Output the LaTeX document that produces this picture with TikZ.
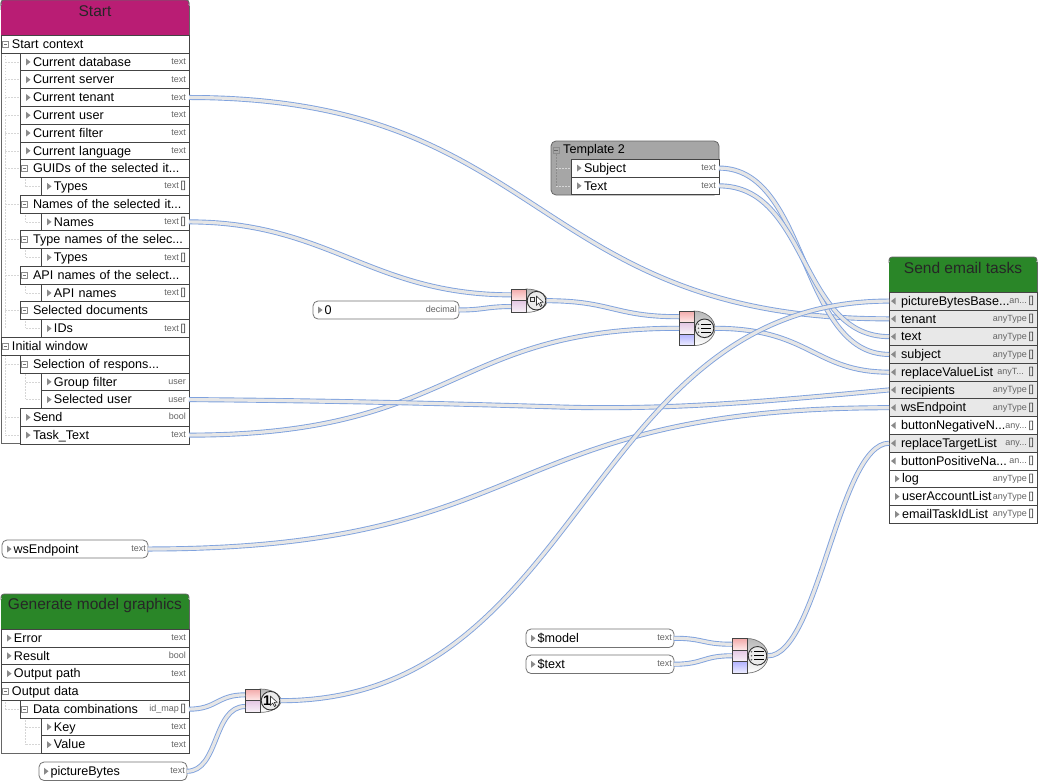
\documentclass[tikz,border=0pt]{standalone}
\usepackage{fontspec}
\setmainfont{Liberation Sans}
\definecolor{edgeD}{HTML}{444444}
\definecolor{wireB}{HTML}{7FA2DE}
\definecolor{wireI}{HTML}{E6E6E6}
\definecolor{typeC}{HTML}{646464}
\definecolor{triC}{HTML}{8A8A8A}
\definecolor{magH}{HTML}{B91D74}
\definecolor{grnH}{HTML}{2A8628}
\definecolor{tmplG}{HTML}{A6A6A6}
\definecolor{rowG}{HTML}{E8E8E8}
\tikzset{
  x=1pt,y=-1pt,
  rowbox/.style={draw=edgeD,line width=0.8pt,anchor=north west,inner xsep=0pt,inner ysep=0pt,outer sep=0pt,
    minimum height=17.77pt,text height=10pt,text depth=1.6pt,align=left,font=\fontsize{12.6}{14}\selectfont,text=black},
  typelabel/.style={anchor=mid east,inner sep=0pt,font=\fontsize{9}{10}\selectfont,text=typeC},
  arrlabel/.style={anchor=mid east,inner sep=0pt,font=\fontsize{10}{10}\selectfont,text=edgeD},
  tri/.style={fill=triC,draw=none},
  treeline/.style={draw=black!16,line width=0.6pt,dash pattern=on 1.5pt off 1.5pt},
  minusbox/.style={draw=black!45,fill=white,line width=0.5pt},
  titletext/.style={anchor=center,inner sep=0pt,font=\fontsize{15.5}{17}\selectfont,text=black!85},
  outerbox/.style={draw=black!60,line width=0.8pt,fill=white},
  constbox/.style={draw=black!55,fill=white,line width=0.8pt,rounded corners=5pt,anchor=north west,inner xsep=0pt,inner ysep=0pt,outer sep=0pt,
    text height=10pt,text depth=1.6pt,align=left,font=\fontsize{12.6}{14}\selectfont},
  wire/.style={draw=wireB,double=wireI,line width=0.9pt,double distance=3.2pt,line cap=butt},
  gatecell/.style={draw=edgeD,line width=0.8pt,anchor=north west,inner sep=0pt,outer sep=0pt,minimum width=15pt,minimum height=11.7pt},
  pinkcell/.style={gatecell,top color=red!30!white!95!black,bottom color=red!8},
  purplecell/.style={gatecell,top color=violet!22,bottom color=violet!5},
  bluecell/.style={gatecell,top color=blue!30,bottom color=blue!7},
  gatebody/.style={draw=black!55,line width=0.7pt,top color=black!28,bottom color=white},
  gatedisc/.style={draw=black!80,line width=0.9pt,fill=black!8},
}
% row: name, left, index, kind, label, type, array flag
\newcommand{\myrow}[7]{%
  \pgfmathsetmacro{\rtop}{\rbase+#3*17.77}%
  \pgfmathsetmacro{\rmid}{\rtop+8.88}%
  \pgfmathsetmacro{\rw}{\rx-#2}%
  \ifdim #2pt>\rl pt
    \draw[treeline] (#2-15,\rmid) -- (#2,\rmid);
  \fi
  \node[rowbox,fill=\rfill,minimum width=\rw pt,text width=\rw pt] (#1) at (#2,\rtop) {\hspace*{13pt}\mbox{#5}};
  \if#4a\fill[tri] (#2+6,\rmid-3.5) -- (#2+10.5,\rmid) -- (#2+6,\rmid+3.5) -- cycle;\fi
  \if#4l\fill[tri] (#2+6.5,\rmid-3.5) -- (#2+2,\rmid) -- (#2+6.5,\rmid+3.5) -- cycle;\fi
  \if#4m\draw[minusbox] (#2+1.5,\rmid-3) rectangle (#2+7.5,\rmid+3);\draw[black!55,line width=0.5pt] (#2+2.8,\rmid) -- (#2+6.2,\rmid);\fi
  \if#71%
    \node[typelabel] (#1-t) at (\rx-10,\rmid) {#6};
    \node[arrlabel] (#1-a) at (\rx-3,\rmid) {[\kern-0.3pt]};
  \else
    \node[typelabel] (#1-t) at (\rx-3,\rmid) {#6};
  \fi
}
% header: name, x1,y1,x2,y2,color,title
\newcommand{\hdr}[7]{%
  \fill[#6,rounded corners=3pt] (#2,#3+6) -- (#2,#3) -- (#4,#3) -- (#4,#3+6) -- cycle;
  \fill[#6] (#2,#3+5) rectangle (#4,#5);
  \draw[black!60,line width=0.8pt,rounded corners=3pt] (#2,#3+6) -- (#2,#3) -- (#4,#3) -- (#4,#3+6);
  \draw[edgeD,line width=0.8pt] (#2,#5) -- (#4,#5);
  \node[titletext] (#1) at ({(#2+#4)/2},#3+11) {#7};
}
% const: name,x1,y1,x2,height,label,type
\newcommand{\constnode}[7]{%
  \pgfmathsetmacro{\rw}{#4-#2}%
  \pgfmathsetmacro{\rmid}{#3+#5/2}%
  \node[constbox,minimum width=\rw pt,text width=\rw pt,minimum height=#5 pt] (#1) at (#2,#3) {\hspace*{11.5pt}\mbox{#6}};
  \fill[tri] (#2+5,\rmid-3.5) -- (#2+9.5,\rmid) -- (#2+5,\rmid+3.5) -- cycle;
  \node[typelabel] (#1-t) at (#4-2,\rmid) {#7};
}
% gate with two inputs: name,x,y
\newcommand{\gatetwo}[3]{%
  \pgfmathsetmacro{\gm}{#3+11.7}%
  \draw[gatebody] (#2+15,#3) arc[start angle=-90,end angle=90,x radius=21,y radius=11.7] -- cycle;
  \node[pinkcell] (#1-1) at (#2,#3) {};
  \node[purplecell] (#1-2) at (#2,\gm) {};
  \coordinate (#1-out) at (#2+35.5,\gm);
  \coordinate (#1-c) at (#2+25.5,\gm);
  \draw[gatedisc] (#1-c) circle (9.3);
}
% gate with three inputs: name,x,y
\newcommand{\gatethree}[3]{%
  \pgfmathsetmacro{\gm}{#3+11.5}\pgfmathsetmacro{\gb}{#3+23}\pgfmathsetmacro{\gc}{#3+17.3}%
  \draw[gatebody] (#2+15,#3) arc[start angle=-90,end angle=90,x radius=21,y radius=17.3] -- cycle;
  \node[pinkcell,minimum height=11.5pt] (#1-1) at (#2,#3) {};
  \node[purplecell,minimum height=11.5pt] (#1-2) at (#2,\gm) {};
  \node[bluecell,minimum height=11.5pt] (#1-3) at (#2,\gb) {};
  \coordinate (#1-out) at (#2+36,\gc);
  \coordinate (#1-c) at (#2+25.5,\gc);
  \draw[gatedisc] (#1-c) circle (9.3);
  \draw[black,line width=0.9pt] ([xshift=-3.5pt,yshift=4pt]#1-c) -- ++(9.5,0) ([xshift=-3.5pt]#1-c) -- ++(9.5,0) ([xshift=-3.5pt,yshift=-4pt]#1-c) -- ++(9.5,0);
  \fill[black!60] ([xshift=-6pt,yshift=4pt]#1-c) circle (0.9) ([xshift=-6pt]#1-c) circle (0.9) ([xshift=-6pt,yshift=-4pt]#1-c) circle (0.9);
}
\newcommand{\cursoricon}[1]{%
  \draw[fill=white,draw=black!80,line width=0.6pt] ([xshift=0pt,yshift=4.5pt]#1) -- ++(0,9) -- ++(2.3,-2.1) -- ++(1.6,3.4) -- ++(1.5,-0.8) -- ++(-1.6,-3.2) -- ++(2.8,-0.3) -- cycle;
}
\newcommand{\wire}[4]{\draw[wire] (#1) .. controls +(#3,0) and +(-#4,0) .. (#2);}
\begin{document}
\begin{tikzpicture}
\useasboundingbox (0,0) rectangle (1038,781);
\fill[white] (0,0) rectangle (1038,781);
\def\rfill{white}
%% Start
\draw[outerbox,rounded corners=3pt] (1,10) -- (1,0) -- (189,0) -- (189,10);
\fill[white,draw=black!60,line width=0.8pt] (1,6) rectangle (189,443);
\hdr{startT}{1}{0}{189}{35}{magH}{Start}
\def\rbase{35.3}\def\rx{189}\def\rl{1}
\draw[treeline] (5,50) -- (5,328);
\draw[treeline] (25,176) -- (25,186.5);
\draw[treeline] (25,212) -- (25,221.5);
\draw[treeline] (25,247) -- (25,257);
\draw[treeline] (25,283) -- (25,292.5);
\draw[treeline] (25,318) -- (25,328);
\draw[treeline] (5,352) -- (5,434);
\draw[treeline] (25,371) -- (25,399);
\myrow{sctx}{1}{0}{m}{\hspace*{-2pt}Start context}{}{0}
\myrow{cdb}{20}{1}{a}{Current database}{text}{0}
\myrow{csrv}{20}{2}{a}{Current server}{text}{0}
\myrow{cten}{20}{3}{a}{Current tenant}{text}{0}
\myrow{cusr}{20}{4}{a}{Current user}{text}{0}
\myrow{cflt}{20}{5}{a}{Current filter}{text}{0}
\myrow{clng}{20}{6}{a}{Current language}{text}{0}
\myrow{guid}{20}{7}{m}{GUIDs of the selected it...}{}{0}
\myrow{gtyp}{41}{8}{a}{Types}{text}{1}
\myrow{nsel}{20}{9}{m}{Names of the selected it...}{}{0}
\myrow{nnam}{41}{10}{a}{Names}{text}{1}
\myrow{tsel}{20}{11}{m}{Type names of the selec...}{}{0}
\myrow{ttyp}{41}{12}{a}{Types}{text}{1}
\myrow{asel}{20}{13}{m}{API names of the select...}{}{0}
\myrow{anam}{41}{14}{a}{API names}{text}{1}
\myrow{sdoc}{20}{15}{m}{Selected documents}{}{0}
\myrow{sids}{41}{16}{a}{IDs}{text}{1}
\myrow{iwin}{1}{17}{m}{\hspace*{-2pt}Initial window}{}{0}
\myrow{sres}{20}{18}{m}{Selection of respons...}{}{0}
\myrow{gflt}{41}{19}{a}{Group filter}{user}{0}
\myrow{susr}{41}{20}{a}{Selected user}{user}{0}
\myrow{send}{20}{21}{a}{Send}{bool}{0}
\myrow{ttxt}{20}{22}{a}{Task\_Text}{text}{0}
%% Template 2
\fill[tmplG,draw=black!60,line width=0.8pt,rounded corners=5pt] (551,141) rectangle (719,195);
\node[anchor=mid west,inner sep=0pt,font=\fontsize{12.6}{14}\selectfont,text=black] (tmplT) at (563,150.5) {Template 2};
\draw[minusbox,fill=tmplG] (553,147) rectangle (559,153);
\draw[black!60,line width=0.5pt] (554.3,150) -- (557.7,150);
\draw[treeline,draw=black!45] (556,154) -- (556,186);
\def\rbase{159.2}\def\rx{719}\def\rl{551}
\myrow{tsub}{571}{0}{a}{Subject}{text}{0}
\myrow{ttex}{571}{1}{a}{Text}{text}{0}
%% Send email tasks
\fill[white,draw=black!60,line width=0.8pt] (889,262) rectangle (1037,523);
\hdr{sendT}{889}{257}{1037}{292}{grnH}{Send email tasks}
\def\rbase{292.2}\def\rx{1037}\def\rl{889}
\def\rfill{rowG}
\myrow{pbb}{889}{0}{l}{\hspace*{-1pt}pictureBytesBase...}{an...}{1}
\myrow{tena}{889}{1}{l}{\hspace*{-1pt}tenant}{anyType}{1}
\myrow{text}{889}{2}{l}{\hspace*{-1pt}text}{anyType}{1}
\myrow{subj}{889}{3}{l}{\hspace*{-1pt}subject}{anyType}{1}
\myrow{rvl}{889}{4}{l}{\hspace*{-1pt}replaceValueList}{anyT...\hspace*{3pt}}{1}
\myrow{reci}{889}{5}{l}{\hspace*{-1pt}recipients}{anyType}{1}
\myrow{wse}{889}{6}{l}{\hspace*{-1pt}wsEndpoint}{anyType}{1}
\def\rfill{white}
\myrow{bnn}{889}{7}{l}{\hspace*{-1pt}buttonNegativeN...}{any...}{1}
\def\rfill{rowG}
\myrow{rtl}{889}{8}{l}{\hspace*{-1pt}replaceTargetList}{any...}{1}
\def\rfill{white}
\myrow{bpn}{889}{9}{l}{\hspace*{-1pt}buttonPositiveNa...}{an...}{1}
\myrow{logr}{889}{10}{a}{log}{anyType}{1}
\myrow{uacl}{889}{11}{a}{userAccountList}{anyType}{1}
\myrow{etil}{889}{12}{a}{emailTaskIdList}{anyType}{1}
%% Generate model graphics
\fill[white,draw=black!60,line width=0.8pt] (1,600) rectangle (189,753);
\hdr{genT}{1}{594}{189}{629}{grnH}{Generate model graphics}
\def\rbase{629.2}\def\rx{189}\def\rl{1}
\draw[treeline] (5,696) -- (5,709);
\draw[treeline] (25,714) -- (25,745);
\myrow{gerr}{1}{0}{a}{Error}{text}{0}
\myrow{gres}{1}{1}{a}{Result}{bool}{0}
\myrow{gpth}{1}{2}{a}{Output path}{text}{0}
\myrow{gdat}{1}{3}{m}{\hspace*{-2pt}Output data}{}{0}
\myrow{gcmb}{20}{4}{m}{Data combinations}{id\_map}{1}
\myrow{gkey}{41}{5}{a}{Key}{text}{0}
\myrow{gval}{41}{6}{a}{Value}{text}{0}
%% constants
\constnode{czero}{313}{301}{459}{18}{0}{decimal}
\constnode{cws}{2}{540}{148}{18}{wsEndpoint}{text}
\constnode{cpic}{39}{762}{187}{18.5}{pictureBytes}{text}
\constnode{cmod}{526}{629}{674}{18.5}{\$model}{text}
\constnode{ctex}{526}{655}{674}{18.5}{\$text}{text}
%% gates
\gatetwo{ga}{511}{289}
\draw[black!80,line width=0.6pt] (530,297) rectangle (534.5,301.5);
\cursoricon{ga-c}
\gatethree{gb}{679}{311}
\gatetwo{gc}{245}{689}
\node[inner sep=0pt,font=\bfseries\fontsize{14}{14}\selectfont] (gcone) at ([xshift=-3.5pt]gc-c) {1};
\cursoricon{gc-c}
\gatethree{gd}{732}{638.5}
%% wires
\wire{nnam.east}{ga-1.west}{140}{140}
\wire{czero.east}{ga-2.west}{25}{25}
\wire{ga-out}{gb-1.west}{65}{65}
\wire{ttxt.east}{gb-2.west}{270}{230}
\wire{cten.east}{tena.west}{360}{360}
\wire{gb-out}{rvl.west}{95}{75}
\coordinate (susrmid) at (560,407);
\draw[wire] (susr.east) .. controls +(130,1) and +(-130,-4) .. (susrmid) .. controls +(120,3.7) and +(-99,9) .. (reci.west);
\wire{cws.east}{wse.west}{395}{395}
\wire{tsub.east}{subj.west}{90}{90}
\wire{ttex.east}{text.west}{90}{90}
\wire{gcmb.east}{gc-1.west}{28}{28}
\wire{cpic.east}{gc-2.west}{32}{32}
\wire{gc-out}{pbb.west}{305}{305}
\wire{cmod.east}{gd-1.west}{30}{30}
\wire{ctex.east}{gd-2.west}{30}{30}
\wire{gd-out}{rtl.west}{50}{50}
\end{tikzpicture}
\end{document}
